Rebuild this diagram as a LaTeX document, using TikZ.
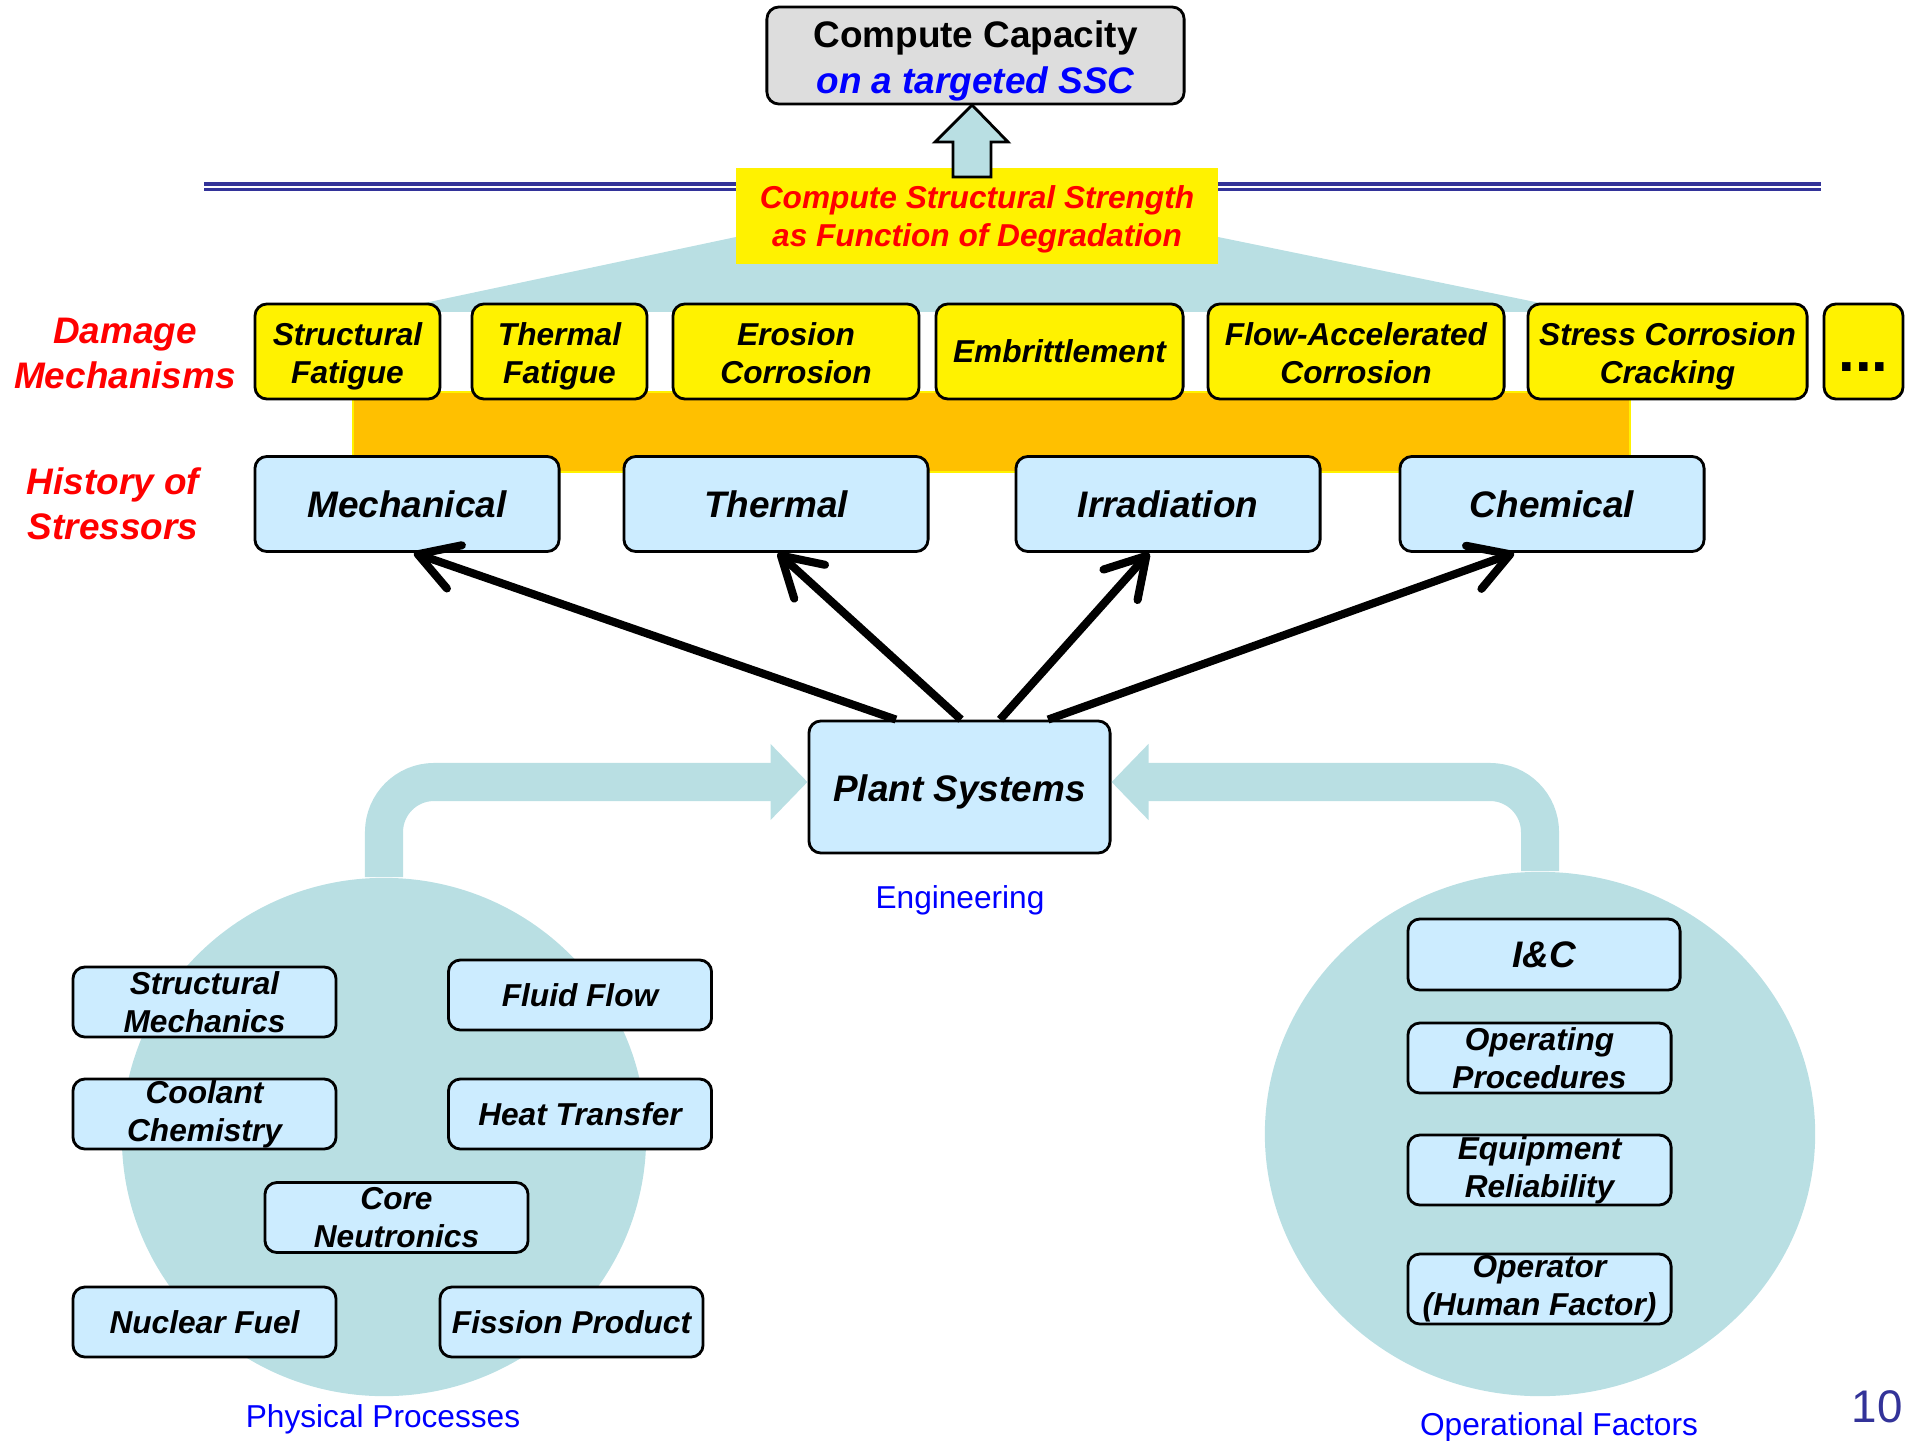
\documentclass[tikz,border=0pt]{standalone}
\usepackage{fontspec}
\setmainfont{Liberation Sans}
\usetikzlibrary{arrows.meta,shapes.geometric}

\definecolor{tealbg}{RGB}{185,223,227}
\definecolor{boxblue}{RGB}{204,236,255}
\definecolor{bandorange}{RGB}{255,192,0}
\definecolor{rulenavy}{RGB}{51,51,153}
\definecolor{capgray}{RGB}{221,221,221}

\newcommand{\lift}{\rule{0pt}{9.4pt}}
\newcommand{\sink}{\rule[-1.9pt]{0pt}{1.9pt}}

\begin{document}
\begin{tikzpicture}[x=0.01cm, y=-0.01cm,
    box/.style={draw, line width=0.8pt, rounded corners=0.12cm, align=center, inner sep=0pt,
        font=\bfseries\itshape\fontsize{9}{10.8}\selectfont},
    dmgbox/.style={box, fill=yellow, minimum height=0.95cm},
    strbox/.style={box, fill=boxblue, minimum width=3.04cm, minimum height=0.95cm,
        font=\bfseries\itshape\fontsize{10.5}{12.6}\selectfont},
    procbox/.style={box, fill=boxblue, minimum width=2.63cm, minimum height=0.70cm},
    redlabel/.style={text=red, align=center, font=\bfseries\itshape\fontsize{10.5}{12.8}\selectfont},
    bluelabel/.style={text=blue, font=\fontsize{9}{11}\selectfont},
    blob/.style={ellipse, fill=tealbg, inner sep=0pt},
    bigflow/.style={draw=tealbg, line width=0.38cm, rounded corners=0.5cm,
        -{Triangle[length=0.37cm,width=0.74cm]}},
    stressarrow/.style={line width=2.3pt, -{Straight Barb[length=11pt,width=13pt,round]}}
  ]
  \useasboundingbox (0,0) rectangle (1907,1440);

  % background pieces
  \fill[tealbg] (382,312) -- (736,237) -- (1218,237) -- (1584,312) -- cycle;
  \draw[rulenavy, line width=1pt] (204,184) -- (1821,184);
  \draw[rulenavy, line width=1pt] (204,189.5) -- (1821,189.5);
  \filldraw[fill=bandorange, draw=yellow, line width=0.6pt] (353,392) rectangle (1630,472);

  % top
  \node[box, fill=capgray, minimum width=4.17cm, minimum height=0.97cm,
        font=\bfseries\fontsize{10.5}{13}\selectfont] (cap) at (975.5,55.5)
        {\rule{0pt}{10.6pt}Compute Capacity\\\textcolor{blue}{\itshape on a targeted SSC}};
  \node[fill=yellow, minimum width=4.82cm, minimum height=0.96cm, inner sep=0pt, text=red,
        align=center, font=\bfseries\itshape\fontsize{9}{10.8}\selectfont] (strength) at (977,216)
        {\rule{0pt}{8.6pt}Compute Structural Strength\\as Function of Degradation};
  \filldraw[fill=tealbg, line width=0.8pt] (953,177) -- (953,142) -- (935,142) -- (972,105)
        -- (1008,142) -- (991,142) -- (991,177) -- cycle;

  % damage mechanisms
  \node[redlabel] (dmglab) at (125,353) {Damage\\Mechanisms};
  \node[dmgbox, minimum width=1.85cm] (sfat)  at (347.5,351.5) {\lift Structural\\Fatigue};
  \node[dmgbox, minimum width=1.75cm] (tfat)  at (559.5,351.5) {\lift Thermal\\Fatigue};
  \node[dmgbox, minimum width=2.46cm] (eros)  at (796,351.5)   {\lift Erosion\\Corrosion\sink};
  \node[dmgbox, minimum width=2.47cm] (embr)  at (1059.5,351.5) {Embrittlement};
  \node[dmgbox, minimum width=2.96cm] (fac)   at (1356,351.5)  {\lift Flow-Accelerated\\Corrosion\sink};
  \node[dmgbox, minimum width=2.79cm] (scc)   at (1667.5,351.5) {\lift Stress Corrosion\\Cracking};
  \node[box, fill=yellow, minimum height=0.95cm, minimum width=0.79cm,
        font=\bfseries\fontsize{17}{19}\selectfont] (more)
        at (1863.5,351.5) {\raisebox{-5.8pt}[0pt][0pt]{...}};

  % stressors
  \node[redlabel] (strlab) at (113,504) {History of\\Stressors};
  \node[strbox] (mech) at (407,504)  {Mechanical};
  \node[strbox] (therm) at (776,504) {Thermal};
  \node[strbox] (irr) at (1168,504)  {Irradiation};
  \node[strbox] (chem) at (1552,504) {Chemical};

  % plant and the two groups
  \node[blob, minimum width=5.24cm, minimum height=5.18cm] (physc) at (384,1137) {};
  \node[blob, minimum width=5.50cm, minimum height=5.24cm] (opc) at (1540,1134) {};
  \node[box, fill=boxblue, minimum width=3.01cm, minimum height=1.32cm,
        font=\bfseries\itshape\fontsize{10.5}{12.6}\selectfont] (plant) at (959.5,787)
        {\rule{0pt}{10.4pt}Plant Systems};
  \draw[bigflow] (physc.north) |- ([yshift=0.05cm]plant.west);
  \draw[bigflow] (opc.north) |- ([yshift=0.05cm]plant.east);
  \node[bluelabel] (eng) at (960,900) {Engineering};

  \draw[stressarrow] ([xshift=-0.635cm]plant.north) -- ([xshift=0.07cm]mech.south);
  \draw[stressarrow] ([xshift=0.015cm]plant.north) -- ([xshift=0.02cm]therm.south);
  \draw[stressarrow] ([xshift=0.405cm]plant.north) -- ([xshift=-0.19cm]irr.south);
  \draw[stressarrow] ([xshift=0.885cm]plant.north) -- ([xshift=-0.38cm]chem.south);

  % physical processes
  \node[procbox] (smech) at (204.5,1002) {Structural\\Mechanics};
  \node[procbox] (fluid) at (580,995)    {Fluid Flow};
  \node[procbox] (cool)  at (204.5,1114) {Coolant\\Chemistry};
  \node[procbox] (heat)  at (580,1114)   {Heat Transfer};
  \node[procbox] (core)  at (396.5,1217.5) {Core\\Neutronics};
  \node[procbox] (fuel)  at (204.5,1322) {Nuclear Fuel};
  \node[procbox] (fiss)  at (571.5,1322) {Fission Product};
  \node[bluelabel] (physlab) at (383,1419) {Physical Processes};

  % operational factors
  \node[procbox, minimum width=2.72cm, minimum height=0.71cm,
        font=\bfseries\itshape\fontsize{10.5}{12.6}\selectfont] (ic) at (1544,954.5) {I\&C};
  \node[procbox] (opproc) at (1539.5,1058) {Operating\\Procedures};
  \node[procbox] (equip)  at (1539.5,1170) {Equipment\\Reliability};
  \node[procbox] (oper)   at (1539.5,1289) {Operator\\(Human Factor)};
  \node[bluelabel] (oplab) at (1559,1427) {Operational Factors};

  \node[text=rulenavy, font=\fontsize{13}{15}\selectfont] (pgnum) at (1877,1407) {10};
\end{tikzpicture}
\end{document}
